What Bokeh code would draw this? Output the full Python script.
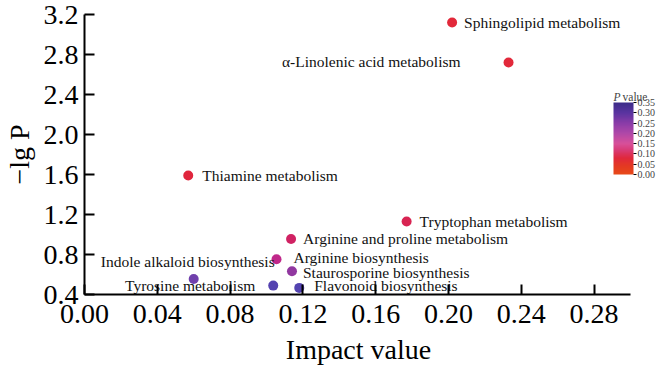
import numpy as np
from bokeh.plotting import figure
from bokeh.models import (ColumnDataSource, Range1d, FixedTicker, NumeralTickFormatter,
                          LinearColorMapper, ColorBar, Label, AllLabels)
from bokeh.core.properties import value
from bokeh.embed import file_html
from bokeh.resources import INLINE

# ---- data ----
pathways = ["Sphingolipid metabolism", "\u03b1-Linolenic acid metabolism", "Thiamine metabolism",
            "Tryptophan metabolism", "Arginine and proline metabolism", "Arginine biosynthesis",
            "Staurosporine biosynthesis", "Indole alkaloid biosynthesis", "Tyrosine metabolism",
            "Flavonoid biosynthesis"]
impact = [0.202, 0.233, 0.057, 0.177, 0.1135, 0.1055, 0.114, 0.060, 0.1037, 0.118]
neg_log_p = [3.12, 2.72, 1.59, 1.13, 0.955, 0.753, 0.632, 0.555, 0.489, 0.466]
x_ticks = [0.0, 0.04, 0.08, 0.12, 0.16, 0.20, 0.24, 0.28]
y_ticks = [0.4, 0.8, 1.2, 1.6, 2.0, 2.4, 2.8, 3.2]
cbar_ticks = [0.0, 0.05, 0.10, 0.15, 0.20, 0.25, 0.30, 0.35]

# ---- label layout (screen px offsets, not data) ----
label_dx = [12, -48, 14, 13, 12, 17, 11, 81, -18, 15]
label_dy = [0, -1, 0, 0, -1, -2, 1, -18, 0, -2]
label_align = ["left", "right", "left", "left", "left", "left", "left", "right", "right", "left"]

p_values = [10 ** (-v) for v in neg_log_p]

def make_palette(anchors, n=256):
    pos = [a[0] for a in anchors]
    cols = [tuple(int(a[1][i:i + 2], 16) for i in (1, 3, 5)) for a in anchors]
    out = []
    for t in np.linspace(pos[0], pos[-1], n):
        rgb = [int(round(np.interp(t, pos, [c[k] for c in cols]))) for k in range(3)]
        out.append("#%02x%02x%02x" % tuple(rgb))
    return out

dot_palette = make_palette([(0.00, "#e2283a"), (0.03, "#e0263e"), (0.075, "#d82452"),
                            (0.11, "#d02262"), (0.177, "#c0288a"), (0.234, "#9038a0"),
                            (0.279, "#7040ac"), (0.324, "#5442b0"), (0.35, "#5244b0")])
bar_palette = make_palette([(0.00, "#e84a1a"), (0.04, "#e43a22"), (0.08, "#e0283c"),
                            (0.12, "#d83c78"), (0.15, "#d8509a"), (0.20, "#b048a8"),
                            (0.25, "#8a3ca8"), (0.30, "#5a34a0"), (0.35, "#3c2c88")])

FONT = "Liberation Serif"
X_MAX = 0.30
X_VIEW_END = 0.3165  # frame extends past the axis end so the colour-bar title fits

p = figure(width=660, height=367, output_backend="svg", toolbar_location=None,
           x_range=Range1d(0, X_VIEW_END), y_range=Range1d(0.4, 3.2),
           min_border_left=83, min_border_right=0, min_border_top=14, min_border_bottom=72)
p.outline_line_color = None
p.xgrid.visible = False
p.ygrid.visible = False
p.background_fill_color = "white"

for ax in (p.xaxis[0], p.yaxis[0]):
    ax.axis_line_width = 2
    ax.axis_line_color = "black"
    ax.major_tick_line_width = 2
    ax.major_tick_line_color = "black"
    ax.major_tick_in = 10
    ax.major_tick_out = 0
    ax.minor_tick_line_color = None
    ax.major_label_text_font = FONT
    ax.major_label_text_font_size = "28px"
    ax.major_label_text_color = "black"
    ax.axis_label_text_font = FONT
    ax.axis_label_text_font_style = "normal"
    ax.axis_label_text_font_size = "28px"
    ax.axis_label_text_color = "black"

p.xaxis.bounds = (0, X_MAX)
p.xaxis.ticker = FixedTicker(ticks=x_ticks)
p.xaxis.formatter = NumeralTickFormatter(format="0.00")
p.xaxis.major_label_standoff = 10
# trailing no-break spaces shift the centred label back under the drawn axis
p.xaxis.axis_label = "Impact value" + "\u00a0" * 4
p.xaxis.axis_label_standoff = 8
p.yaxis.ticker = FixedTicker(ticks=y_ticks)
p.yaxis.formatter = NumeralTickFormatter(format="0.0")
p.yaxis.major_label_standoff = 6
p.yaxis.axis_label = "\u2212lg P"
p.yaxis.axis_label_standoff = 6

src = ColumnDataSource(dict(x=impact, y=neg_log_p, pval=p_values, name=pathways))
dot_mapper = LinearColorMapper(palette=dot_palette, low=0, high=0.35)
p.scatter("x", "y", source=src, size=10, line_color=None,
          fill_color={"field": "pval", "transform": dot_mapper})

for align in ("left", "right"):
    idx = [i for i, a in enumerate(label_align) if a == align]
    s = ColumnDataSource(dict(x=[impact[i] for i in idx], y=[neg_log_p[i] for i in idx],
                              name=[pathways[i] for i in idx],
                              dx=[label_dx[i] for i in idx], dy=[label_dy[i] for i in idx]))
    p.text("x", "y", text="name", source=s, x_offset="dx", y_offset="dy",
           text_align=align, text_baseline="middle", text_font=value(FONT),
           text_font_size="15.5px", text_color="#111111")

bar_mapper = LinearColorMapper(palette=bar_palette, low=0, high=0.35)
cb = ColorBar(color_mapper=bar_mapper, location=(529, 120), width=20, height=72,
              padding=0, ticker=FixedTicker(ticks=cbar_ticks),
              formatter=NumeralTickFormatter(format="0.00"),
              major_label_policy=AllLabels(),
              major_label_text_font=FONT, major_label_text_font_size="10px",
              label_standoff=1, major_tick_in=0, major_tick_out=3,
              major_tick_line_color="black", bar_line_color=None, border_line_color=None,
              background_fill_alpha=0)
p.add_layout(cb, "center")
p.add_layout(Label(x=0.2907, y=2.373, text="P", text_font=FONT, text_font_style="italic",
                   text_font_size="11.5px", text_baseline="alphabetic"))
p.add_layout(Label(x=0.2907, y=2.373, x_offset=9, text="value", text_font=FONT,
                   text_font_size="11.5px", text_baseline="alphabetic"))

open("out.html", "w").write(file_html(p, INLINE))
